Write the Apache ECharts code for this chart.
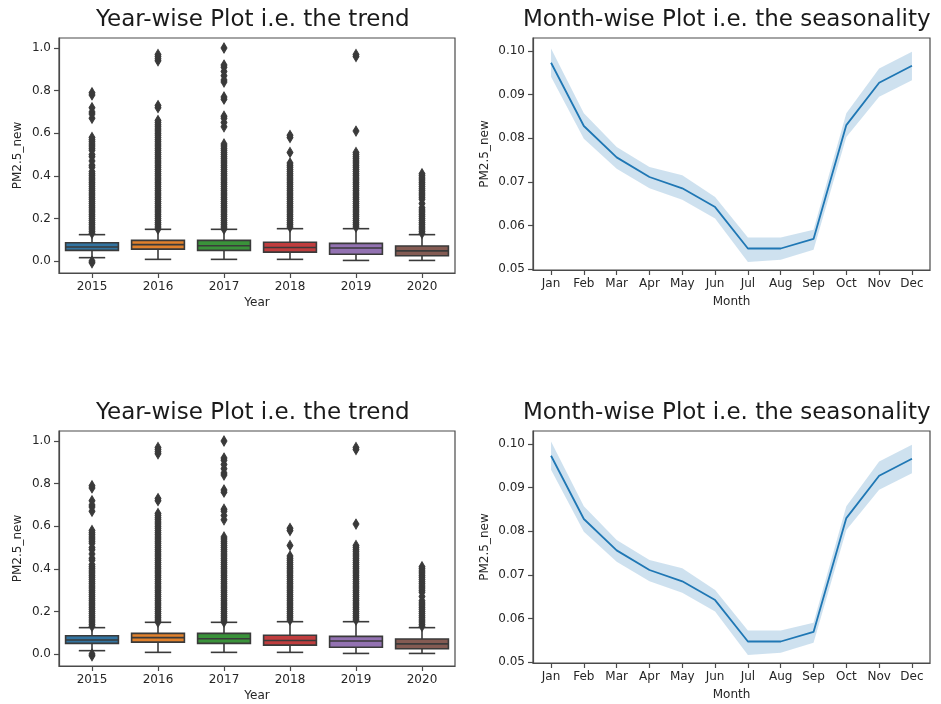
<!DOCTYPE html>
<html>
<head>
<meta charset="utf-8">
<script src="https://cdn.jsdelivr.net/npm/echarts@6/dist/echarts.min.js"></script>
<style>
html, body { margin: 0; padding: 0; background: #fff; }
#main { width: 941px; height: 704px; }
</style>
</head>
<body>
<div id="main"></div>
<script>
// year-wise box stats
var years = ['2015', '2016', '2017', '2018', '2019', '2020'];
var boxLow  = [0.016, 0.008, 0.008, 0.008, 0.003, 0.003];
var boxQ1   = [0.050, 0.056, 0.050, 0.042, 0.032, 0.025];
var boxMed  = [0.066, 0.077, 0.072, 0.064, 0.061, 0.048];
var boxQ3   = [0.086, 0.097, 0.097, 0.088, 0.083, 0.071];
var boxHigh = [0.124, 0.149, 0.149, 0.152, 0.152, 0.124];

// fliers
var out2015 = [-0.008, 0.0, 0.13, 0.14, 0.15, 0.16, 0.17, 0.18, 0.19, 0.20, 0.21, 0.22, 0.23, 0.24, 0.25, 0.26, 0.27, 0.28, 0.29, 0.30, 0.31, 0.32, 0.33, 0.34, 0.35, 0.36, 0.37, 0.38, 0.39, 0.40, 0.41, 0.42, 0.44, 0.45, 0.47, 0.49, 0.50, 0.52, 0.53, 0.54, 0.55, 0.56, 0.57, 0.58, 0.67, 0.69, 0.70, 0.72, 0.78, 0.79];
var out2016 = [0.15, 0.16, 0.17, 0.18, 0.19, 0.20, 0.21, 0.22, 0.23, 0.24, 0.25, 0.26, 0.27, 0.28, 0.29, 0.30, 0.31, 0.32, 0.33, 0.34, 0.35, 0.36, 0.37, 0.38, 0.39, 0.40, 0.41, 0.42, 0.43, 0.44, 0.45, 0.46, 0.47, 0.48, 0.49, 0.50, 0.51, 0.52, 0.53, 0.54, 0.55, 0.56, 0.57, 0.58, 0.59, 0.60, 0.61, 0.62, 0.63, 0.64, 0.65, 0.66, 0.72, 0.73, 0.94, 0.95, 0.96, 0.97];
var out2017 = [0.15, 0.16, 0.17, 0.18, 0.19, 0.20, 0.21, 0.22, 0.23, 0.24, 0.25, 0.26, 0.27, 0.28, 0.29, 0.30, 0.31, 0.32, 0.33, 0.34, 0.35, 0.36, 0.37, 0.38, 0.39, 0.40, 0.41, 0.42, 0.43, 0.44, 0.45, 0.46, 0.47, 0.48, 0.49, 0.50, 0.51, 0.52, 0.53, 0.54, 0.55, 0.63, 0.65, 0.67, 0.68, 0.76, 0.77, 0.84, 0.85, 0.87, 0.89, 0.91, 0.92, 1.0];
var out2018 = [0.16, 0.17, 0.18, 0.19, 0.20, 0.21, 0.22, 0.23, 0.24, 0.25, 0.26, 0.27, 0.28, 0.29, 0.30, 0.31, 0.32, 0.33, 0.34, 0.35, 0.36, 0.37, 0.38, 0.39, 0.40, 0.41, 0.42, 0.43, 0.44, 0.45, 0.46, 0.51, 0.58, 0.59];
var out2019 = [0.16, 0.17, 0.18, 0.19, 0.20, 0.21, 0.22, 0.23, 0.24, 0.25, 0.26, 0.27, 0.28, 0.29, 0.30, 0.31, 0.32, 0.33, 0.34, 0.35, 0.36, 0.37, 0.38, 0.39, 0.40, 0.41, 0.42, 0.43, 0.44, 0.45, 0.46, 0.47, 0.48, 0.49, 0.50, 0.51, 0.61, 0.96, 0.97];
var out2020 = [0.13, 0.14, 0.15, 0.16, 0.17, 0.18, 0.19, 0.20, 0.21, 0.22, 0.23, 0.24, 0.25, 0.27, 0.29, 0.30, 0.31, 0.32, 0.33, 0.34, 0.35, 0.36, 0.37, 0.38, 0.39, 0.40, 0.41];
var outliers = [out2015, out2016, out2017, out2018, out2019, out2020];
var boxTicks = [0, 0.2, 0.4, 0.6, 0.8, 1.0];

// month-wise mean + ci band
var months = ['Jan', 'Feb', 'Mar', 'Apr', 'May', 'Jun', 'Jul', 'Aug', 'Sep', 'Oct', 'Nov', 'Dec'];
var monthMean  = [0.0973, 0.0828, 0.0756, 0.0711, 0.0685, 0.0642, 0.0547, 0.0547, 0.0569, 0.0830, 0.0927, 0.0966];
var monthLower = [0.0941, 0.0799, 0.0730, 0.0685, 0.0659, 0.0616, 0.0516, 0.0521, 0.0544, 0.0803, 0.0895, 0.0933];
var monthUpper = [0.1006, 0.0857, 0.0780, 0.0734, 0.0715, 0.0665, 0.0572, 0.0572, 0.0590, 0.0857, 0.0960, 0.0998];
var lineTicks = [0.05, 0.06, 0.07, 0.08, 0.09, 0.10];

var palette = ['#3274a1', '#e1812c', '#3a923a', '#c03d3e', '#9372b2', '#845b53'];
var gray = '#3a3a3a';
var txt = '#262626';
var frame = '#4a4a4a';

var myChart = echarts.init(document.getElementById('main'));

function renderBox(params, api) {
    var x = api.value(0);
    var lo = api.coord([x, api.value(1)]);
    var q1 = api.coord([x, api.value(2)]);
    var med = api.coord([x, api.value(3)]);
    var q3 = api.coord([x, api.value(4)]);
    var hi = api.coord([x, api.value(5)]);
    var bw = api.size([1, 0])[0] * 0.8;
    var cx = lo[0];
    var ls = { stroke: gray, lineWidth: 1.6 };
    return {
        type: 'group',
        children: [
            { type: 'line', shape: { x1: cx, y1: q3[1], x2: cx, y2: hi[1] }, style: ls },
            { type: 'line', shape: { x1: cx, y1: q1[1], x2: cx, y2: lo[1] }, style: ls },
            { type: 'line', shape: { x1: cx - bw / 4, y1: hi[1], x2: cx + bw / 4, y2: hi[1] }, style: ls },
            { type: 'line', shape: { x1: cx - bw / 4, y1: lo[1], x2: cx + bw / 4, y2: lo[1] }, style: ls },
            { type: 'rect', shape: { x: cx - bw / 2, y: q3[1], width: bw, height: q1[1] - q3[1] },
              style: { fill: palette[params.dataIndex], stroke: gray, lineWidth: 1.6 } },
            { type: 'line', shape: { x1: cx - bw / 2, y1: med[1], x2: cx + bw / 2, y2: med[1] }, style: ls }
        ]
    };
}

function renderBand(params, api) {
    var pts = [];
    for (var i = 0; i < months.length; i++) pts.push(api.coord([i, monthUpper[i]]));
    for (var j = months.length - 1; j >= 0; j--) pts.push(api.coord([j, monthLower[j]]));
    return { type: 'polygon', shape: { points: pts }, style: { fill: 'rgba(31,119,180,0.22)' } };
}

var boxData = years.map(function (y, i) {
    return [i, boxLow[i], boxQ1[i], boxMed[i], boxQ3[i], boxHigh[i]];
});
var flierData = [];
outliers.forEach(function (arr, i) {
    arr.forEach(function (v) { flierData.push([i, v]); });
});
var lineData = months.map(function (m, i) { return [i, monthMean[i]]; });
var monthIdx = months.map(function (m, i) { return i; });

var grids = [], xAxes = [], yAxes = [], series = [], titles = [];
var tops = [0, 393];
var axLine = { show: true, onZero: false, lineStyle: { color: frame, width: 1.2 } };
var tickStyle = { color: frame, width: 1.2 };

tops.forEach(function (dy, p) {
    var gl = grids.length;
    grids.push({ left: 59, top: 38 + dy, width: 396, height: 235, show: true,
                 borderColor: frame, borderWidth: 1.2, backgroundColor: 'transparent' });
    grids.push({ left: 533, top: 38 + dy, width: 397, height: 232, show: true,
                 borderColor: frame, borderWidth: 1.2, backgroundColor: 'transparent' });

    titles.push({ text: 'Year-wise Plot i.e. the trend', left: 96, top: 9 + dy, padding: 0,
                  textStyle: { fontSize: 23, fontWeight: 'normal', color: '#1a1a1a', fontFamily: 'DejaVu Sans' } });
    titles.push({ text: 'Month-wise Plot i.e. the seasonality', left: 523, top: 9 + dy, padding: 0,
                  textStyle: { fontSize: 23, fontWeight: 'normal', color: '#1a1a1a', fontFamily: 'DejaVu Sans' } });

    xAxes.push({
        gridIndex: gl, type: 'category', data: years, boundaryGap: true,
        name: 'Year', nameLocation: 'middle', nameGap: 24,
        nameTextStyle: { fontSize: 12, color: txt },
        axisLine: axLine,
        axisTick: { show: true, alignWithLabel: true, length: 5, lineStyle: tickStyle },
        axisLabel: { fontSize: 12, color: txt, margin: 8 },
        splitLine: { show: false }
    });
    yAxes.push({
        gridIndex: gl, type: 'value', min: -0.056, max: 1.047,
        name: 'PM2.5_new', nameLocation: 'middle', nameGap: 35,
        nameTextStyle: { fontSize: 12, color: txt },
        axisLine: axLine,
        axisTick: { show: true, length: 5, customValues: boxTicks, lineStyle: tickStyle },
        axisLabel: { fontSize: 12, color: txt, margin: 8, customValues: boxTicks,
                     formatter: function (v) { return v.toFixed(1); } },
        splitLine: { show: false }
    });
    xAxes.push({
        gridIndex: gl + 1, type: 'value', min: -0.55, max: 11.55,
        name: 'Month', nameLocation: 'middle', nameGap: 26,
        nameTextStyle: { fontSize: 12, color: txt },
        axisLine: axLine,
        axisTick: { show: true, length: 5, customValues: monthIdx, lineStyle: tickStyle },
        axisLabel: { fontSize: 12, color: txt, margin: 8, customValues: monthIdx,
                     formatter: function (v) { return months[Math.round(v)]; } },
        splitLine: { show: false }
    });
    yAxes.push({
        gridIndex: gl + 1, type: 'value', min: 0.04977, max: 0.10298,
        name: 'PM2.5_new', nameLocation: 'middle', nameGap: 42,
        nameTextStyle: { fontSize: 12, color: txt },
        axisLine: axLine,
        axisTick: { show: true, length: 5, customValues: lineTicks, lineStyle: tickStyle },
        axisLabel: { fontSize: 12, color: txt, margin: 8, customValues: lineTicks,
                     formatter: function (v) { return v.toFixed(2); } },
        splitLine: { show: false }
    });

    series.push({
        type: 'custom', xAxisIndex: gl, yAxisIndex: gl, renderItem: renderBox,
        encode: { x: 0, y: [1, 2, 3, 4, 5] }, data: boxData, z: 2
    });
    series.push({
        type: 'scatter', xAxisIndex: gl, yAxisIndex: gl, data: flierData,
        symbol: 'diamond', symbolSize: [6, 10],
        itemStyle: { color: gray, borderColor: gray, borderWidth: 1, opacity: 1 }, z: 3
    });
    series.push({
        type: 'custom', xAxisIndex: gl + 1, yAxisIndex: gl + 1, renderItem: renderBand,
        data: [[0, monthMean[0]]], z: 2
    });
    series.push({
        type: 'line', xAxisIndex: gl + 1, yAxisIndex: gl + 1, data: lineData,
        symbol: 'none', lineStyle: { color: '#1f77b4', width: 1.8 }, z: 3
    });
});

var option = {
    animation: false,
    backgroundColor: '#fff',
    textStyle: { fontFamily: 'DejaVu Sans' },
    title: titles,
    grid: grids,
    xAxis: xAxes,
    yAxis: yAxes,
    series: series
};
myChart.setOption(option);
</script>
</body>
</html>
